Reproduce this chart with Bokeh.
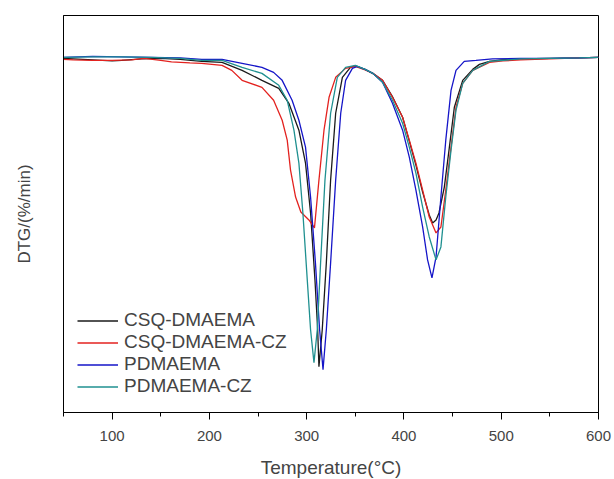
from bokeh.plotting import figure
from bokeh.models import Range1d, FixedTicker, SingleIntervalTicker, Legend, LegendItem
from bokeh.embed import file_html
from bokeh.resources import INLINE

# ---- data (temperature in °C, DTG in arbitrary units, baseline 0) ----
csq_T = [50, 70, 90, 100, 110, 130, 150, 170, 192, 213, 233.6, 254, 271.3, 281.7, 292, 298.8,
         304, 308.5, 311.3, 312.6, 316, 320.2, 324.6, 329.8, 336.7, 345, 350, 360, 368, 378, 388,
         398.6, 405.5, 412.3, 419.2, 426, 429.5, 433, 436, 441.5, 446.7, 451.8, 460.4, 470.7,
         477.6, 488, 500, 520, 550, 580, 600]
csq_y = [-0.1, -0.2, -0.3, -0.35, -0.3, -0.15, -0.1, -0.2, -0.4, -0.5, -1.3, -2.3, -3.1, -4.6,
         -7.3, -10.6, -15.6, -22.3, -27.3, -31.0, -27.3, -20.6, -12.3, -5.6, -2.0, -1.0, -0.85,
         -1.2, -1.6, -2.3, -3.9, -6.0, -8.4, -10.8, -13.5, -15.8, -16.6, -16.3, -15.6, -13.0,
         -9.0, -5.0, -2.3, -1.2, -0.7, -0.4, -0.25, -0.15, -0.1, -0.05, 0.0]

csqcz_T = [50, 60, 80, 100, 120, 133, 150, 161, 180, 192, 213, 223, 233.6, 254, 266, 274.8, 280,
           283.4, 288.6, 294, 302.3, 308, 312.6, 317.8, 323, 329.8, 340, 350, 360, 368, 378,
           388.2, 398.6, 405.5, 412.3, 419.2, 426, 433, 438, 443, 448.4, 453.5, 460.4, 470.7,
           487.9, 501.7, 520, 550, 580, 600]
csqcz_y = [-0.2, -0.25, -0.3, -0.3, -0.25, -0.1, -0.3, -0.45, -0.55, -0.6, -0.8, -1.3, -2.3,
           -3.0, -4.3, -6.3, -8.3, -11.3, -14.0, -15.5, -16.3, -17.1, -12.3, -7.3, -4.0, -2.0,
           -1.1, -0.9, -1.25, -1.6, -2.3, -4.0, -6.0, -8.3, -10.6, -13.3, -16.0, -17.6, -17.0,
           -13.3, -9.0, -5.0, -2.6, -1.3, -0.5, -0.35, -0.25, -0.15, -0.05, 0.0]

pd_T = [50, 80, 110, 140, 170, 192, 213, 233.6, 254, 266, 274.8, 285, 292, 298.8, 304, 309,
        313.3, 316.8, 320.2, 324.6, 329.8, 335, 340, 347, 352, 360, 368, 378, 388.2, 398.6,
        405.5, 412.3, 419.2, 424.3, 428.8, 433, 438, 443, 448.4, 453.5, 462, 474, 491, 520,
        550, 580, 600]
pd_y = [0.0, 0.1, 0.05, 0.0, -0.05, -0.2, -0.2, -0.6, -1.0, -1.5, -2.3, -4.3, -6.3, -9.0,
        -14.0, -20.6, -27.3, -31.3, -27.3, -20.6, -12.3, -5.6, -2.3, -1.1, -0.9, -1.2, -1.6,
        -2.5, -4.6, -7.3, -10.0, -13.3, -17.0, -20.3, -22.1, -20.0, -14.0, -8.3, -3.3, -1.3,
        -0.4, -0.3, -0.15, -0.1, -0.1, -0.05, 0.0]

pdcz_T = [50, 80, 110, 140, 170, 192, 213, 233.6, 254, 271.3, 280, 286.9, 292, 296.1, 300.6,
          304, 307.5, 310.9, 314.3, 318.8, 324.6, 331.5, 340, 350, 360, 368, 378, 388.2, 398.6,
          405.5, 412.3, 419.2, 426, 433, 438, 443, 448.4, 453.5, 460.4, 470.7, 488, 520, 550,
          580, 600]
pdcz_y = [0.0, 0.05, 0.05, 0.0, -0.1, -0.3, -0.3, -1.0, -1.6, -2.8, -4.3, -7.3, -10.6, -15.6,
          -22.3, -27.3, -30.6, -27.3, -20.6, -12.3, -5.6, -2.0, -1.0, -0.8, -1.2, -1.6, -2.5,
          -4.3, -6.6, -9.0, -11.6, -15.0, -18.0, -20.3, -19.0, -14.0, -9.3, -5.3, -2.6, -1.3,
          -0.4, -0.15, -0.1, -0.05, 0.0]

series_names = ["CSQ-DMAEMA", "CSQ-DMAEMA-CZ", "PDMAEMA", "PDMAEMA-CZ"]
series_colors = ["#1a1a1a", "#e3221f", "#1515c8", "#1f9090"]

FONT = "Liberation Sans"

p = figure(width=614, height=479, output_backend="svg", toolbar_location=None,
           x_range=Range1d(50, 600), y_range=Range1d(-35.6, 4.2),
           min_border_left=63, min_border_right=16, min_border_top=15, min_border_bottom=67)
p.frame_width = 535
p.frame_height = 397

p.background_fill_color = "white"
p.border_fill_color = "white"
p.outline_line_color = "black"
p.outline_line_width = 1
p.xgrid.visible = False
p.ygrid.visible = False

# x axis
p.xaxis.ticker = SingleIntervalTicker(interval=100, num_minor_ticks=2)
p.xaxis.axis_label = "Temperature(°C)"
p.xaxis.axis_label_text_font = FONT
p.xaxis.axis_label_text_font_size = "19px"
p.xaxis.axis_label_text_font_style = "normal"
p.xaxis.axis_label_standoff = 13
p.xaxis.major_label_text_font = FONT
p.xaxis.major_label_text_font_size = "15px"
p.xaxis.major_label_standoff = 11
p.xaxis.major_tick_in = 0
p.xaxis.major_tick_out = 7
p.xaxis.minor_tick_in = 0
p.xaxis.minor_tick_out = 4
p.xaxis.axis_line_color = "black"
p.xaxis.major_tick_line_color = "black"
p.xaxis.minor_tick_line_color = "black"

# y axis (no ticks)
p.yaxis.ticker = FixedTicker(ticks=[])
p.yaxis.axis_label = "DTG/(%/min)"
p.yaxis.axis_label_text_font = FONT
p.yaxis.axis_label_text_font_size = "17px"
p.yaxis.axis_label_text_font_style = "normal"
p.yaxis.axis_label_standoff = 30
p.yaxis.major_tick_out = 0
p.yaxis.major_tick_in = 0
p.yaxis.minor_tick_out = 0
p.yaxis.minor_tick_in = 0
p.yaxis.major_label_standoff = 0
p.yaxis.axis_line_color = "black"

all_T = [csq_T, csqcz_T, pd_T, pdcz_T]
all_y = [csq_y, csqcz_y, pd_y, pdcz_y]
renderers = []
for T, y, c in zip(all_T, all_y, series_colors):
    r = p.line(T, y, line_color=c, line_width=1.3)
    renderers.append(r)

legend = Legend(items=[LegendItem(label=n, renderers=[r]) for n, r in zip(series_names, renderers)],
                location=(14, 15), orientation="vertical")
legend.background_fill_alpha = 0
legend.border_line_color = None
legend.padding = 0
legend.margin = 0
legend.spacing = 0
legend.glyph_width = 41
legend.glyph_height = 21
legend.label_height = 21
legend.label_standoff = 6
legend.label_text_font = FONT
legend.label_text_font_size = "19px"
legend.label_text_baseline = "middle"
p.add_layout(legend, "center")

open("out.html", "w").write(file_html(p, INLINE))
